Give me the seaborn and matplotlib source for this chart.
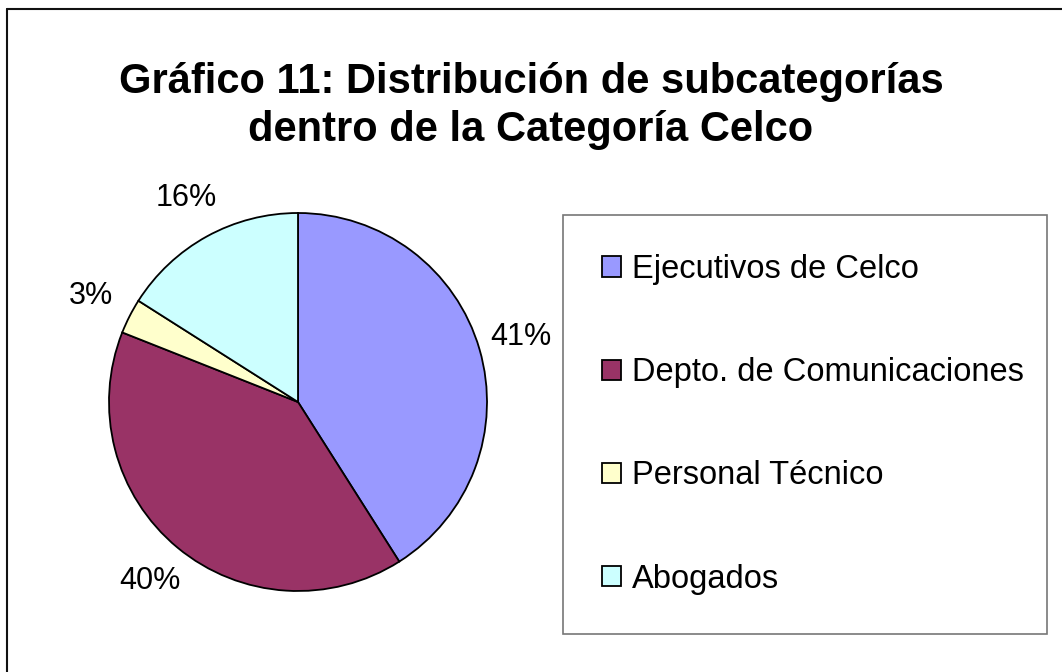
import matplotlib
matplotlib.use("Agg")
import matplotlib.pyplot as plt
import seaborn as sns
from matplotlib.lines import Line2D

sns.set_theme(style="white")
plt.rcParams['font.family'] = ['Liberation Sans', 'DejaVu Sans']

# data
categories = ['Ejecutivos de Celco', 'Depto. de Comunicaciones', 'Personal Técnico', 'Abogados']
shares = [41, 40, 3, 16]
colors = ['#9999FF', '#993366', '#FFFFCC', '#CCFFFF']
title = 'Gráfico 11: Distribución de subcategorías\ndentro de la Categoría Celco'

W, H = 1062, 672
fig = plt.figure(figsize=(W / 100, H / 100), dpi=100)
fig.patch.set_facecolor('white')

# outer chart frame (only left/top edges fall inside the picture)
fig.add_artist(Line2D([7 / W, 7 / W], [0, 1 - 9 / H], transform=fig.transFigure, color='#111111', lw=1.5))
fig.add_artist(Line2D([7 / W, 1], [1 - 9 / H, 1 - 9 / H], transform=fig.transFigure, color='#111111', lw=1.5))

# pie area: centre (298, 402), radius 189 px
cx, cy, r = 298, 402, 189
ax = fig.add_axes([(cx - r) / W, (H - cy - r) / H, 2 * r / W, 2 * r / H])
wedges, texts, autotexts = ax.pie(
    shares, colors=colors, startangle=90, counterclock=False,
    autopct='%1.0f%%', pctdistance=1.23,
    wedgeprops=dict(edgecolor='black', linewidth=1.3),
    textprops=dict(fontsize=22, color='black'),
)
for t in autotexts:
    t.set_clip_on(False)
ax.set_xlim(-1, 1)
ax.set_ylim(-1, 1)
ax.set_aspect('equal')
ax.axis('off')

fig.text(0.5, 1 - 106 / H, title, ha='center', va='center', fontsize=30,
         fontweight='bold', linespacing=1.27, color='black')

# legend box spans x 563..1047, starts at y 215
leg = fig.legend(
    wedges, categories, loc='upper left', mode='expand',
    bbox_to_anchor=(563 / W, 0, 484 / W, 1 - 215 / H), bbox_transform=fig.transFigure,
    fontsize=23.5, frameon=True, fancybox=False, borderpad=1.2,
    labelspacing=2.21, handlelength=0.58, handleheight=0.58,
    handletextpad=0.34, borderaxespad=0,
)
leg.get_frame().set_edgecolor('#555555')
leg.get_frame().set_linewidth(1.2)
for t in leg.get_texts():
    t.set_color('black')
for h in leg.legend_handles:
    h.set_edgecolor('black')
    h.set_linewidth(1.3)

fig.savefig('out.png', dpi=100, facecolor='white')
